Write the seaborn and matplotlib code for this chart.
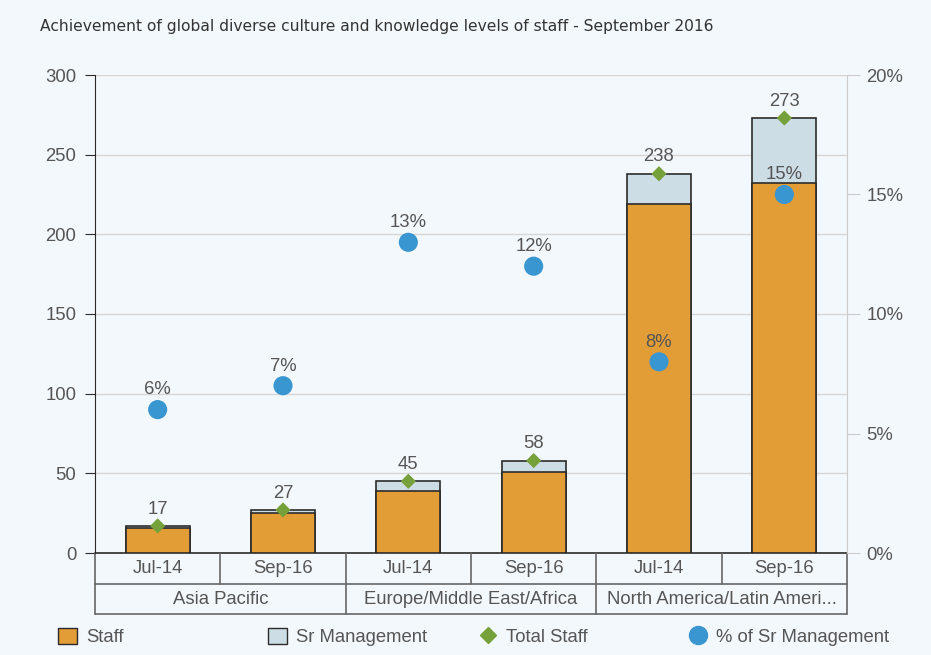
import numpy as np
import pandas as pd
import seaborn as sns
import matplotlib.pyplot as plt
from matplotlib.lines import Line2D
from matplotlib.patches import Patch

# --- data ---
regions = ["Asia Pacific", "Europe/Middle East/Africa", "North America/Latin Ameri..."]
periods = ["Jul-14", "Sep-16", "Jul-14", "Sep-16", "Jul-14", "Sep-16"]
staff = [16, 25, 39, 51, 219, 232]
sr_mgmt = [1, 2, 6, 7, 19, 41]
total_staff = [17, 27, 45, 58, 238, 273]
pct_sr = [6, 7, 13, 12, 8, 15]

df = pd.DataFrame({
    "slot": np.arange(len(periods)),
    "period": periods,
    "staff": staff,
    "total": np.array(staff) + np.array(sr_mgmt),
    "total_staff": total_staff,
    "pct": np.array(pct_sr) / 100,
})

# --- colours ---
bg = "#f3f8fc"
orange = "#e29d37"
light_blue = "#cddde6"
green = "#76a03a"
blue = "#3a96d0"
txt = "#555555"
edge = "#2b2b2b"
fs = 13.3

sns.set_style("white")
plt.rcParams["font.family"] = ["Liberation Sans", "DejaVu Sans"]

fig = plt.figure(figsize=(9.31, 6.55), dpi=100, facecolor=bg)
ax = fig.add_axes([95 / 931, 1 - 553 / 655, 752 / 931, 478 / 655], facecolor=bg)

# stacked bars: full height (sr mgmt) first, staff drawn over it
sns.barplot(data=df, x="slot", y="total", color=light_blue, width=0.51,
            edgecolor=edge, linewidth=1.2, saturation=1, ax=ax, zorder=2)
sns.barplot(data=df, x="slot", y="staff", color=orange, width=0.51,
            edgecolor=edge, linewidth=1.2, saturation=1, ax=ax, zorder=3)

sns.scatterplot(data=df, x="slot", y="total_staff", marker="D", s=60, color=green,
                edgecolor="none", ax=ax, zorder=5, legend=False)
for x, v in zip(df["slot"], df["total_staff"]):
    ax.annotate(str(v), (x, v), xytext=(0, 6), textcoords="offset points",
                ha="center", va="bottom", fontsize=fs, color=txt, zorder=6)

ax.set_xlim(-0.5, len(periods) - 0.5)
ax.set_ylim(0, 300)
ax.set_yticks(range(0, 301, 50))
ax.yaxis.grid(True, color="#d6d6d6", linewidth=1)
ax.set_axisbelow(True)
ax.set_xlabel("")
ax.set_ylabel("")
ax.set_xticks([])
ax.tick_params(axis="y", labelsize=fs, labelcolor=txt, length=7.5, color=edge, pad=6)
for s in ["top", "right", "bottom"]:
    ax.spines[s].set_visible(False)
ax.spines["left"].set_color(edge)

# secondary axis for % of Sr Management
ax2 = ax.twinx()
sns.scatterplot(data=df, x="slot", y="pct", s=190, color=blue, edgecolor="none",
                ax=ax2, zorder=5, legend=False)
for x, v in zip(df["slot"], df["pct"]):
    ax2.annotate(f"{v:.0%}", (x, v), xytext=(0, 8), textcoords="offset points",
                 ha="center", va="bottom", fontsize=fs, color=txt)
ax2.set_ylim(0, 0.20)
ax2.set_yticks(np.arange(0, 0.21, 0.05))
ax2.set_yticklabels([f"{t:.0%}" for t in np.arange(0, 0.21, 0.05)])
ax2.set_ylabel("")
ax2.tick_params(axis="y", labelsize=fs, labelcolor=txt, length=9, color="#cccccc", pad=5)
for s in ["top", "left", "bottom"]:
    ax2.spines[s].set_visible(False)
ax2.spines["right"].set_color("#cccccc")
ax2.set_xlim(-0.5, len(periods) - 0.5)

# two-level category table under the axis
trans = ax.get_xaxis_transform()
row1, row2 = -31 / 478, -61 / 478
lc = "#666666"
ax.plot([-0.5, 5.5], [0, 0], transform=trans, color=edge, lw=1.2, clip_on=False)
for yy in (row1, row2):
    ax.plot([-0.5, 5.5], [yy, yy], transform=trans, color=lc, lw=1.2, clip_on=False)
for xx in (-0.5, 1.5, 3.5, 5.5):
    ax.plot([xx, xx], [0, row2], transform=trans, color=lc, lw=1.2, clip_on=False)
for xx in (0.5, 2.5, 4.5):
    ax.plot([xx, xx], [0, row1], transform=trans, color=lc, lw=1.2, clip_on=False)
for x, p in zip(df["slot"], periods):
    ax.text(x, row1 / 2, p, transform=trans, ha="center", va="center",
            fontsize=fs, color=txt)
for i, r in enumerate(regions):
    ax.text(2 * i + 0.5, (row1 + row2) / 2, r, transform=trans, ha="center",
            va="center", fontsize=fs, color=txt)

# title
fig.text(40 / 931, 1 - 27 / 655, "Achievement of global diverse culture and knowledge levels of staff - September 2016",
         fontsize=11.2, color="#333333", va="center", ha="left",
         family=["Liberation Sans Narrow", "DejaVu Sans"])

# legend, one entry every 210 px
handles = [
    Patch(facecolor=orange, edgecolor=edge, label="Staff"),
    Patch(facecolor=light_blue, edgecolor=edge, label="Sr Management"),
    Line2D([], [], marker="D", color=green, linestyle="none", markersize=8, label="Total Staff"),
    Line2D([], [], marker="o", color=blue, linestyle="none", markersize=13, label="% of Sr Management"),
]
for i, h in enumerate(handles):
    fig.legend(handles=[h], loc="center left", bbox_to_anchor=((51 + 210 * i) / 931, 1 - 637 / 655),
               frameon=False, fontsize=fs, handlelength=1.0, handleheight=1.0,
               handletextpad=0.5, labelcolor=txt, borderaxespad=0)

fig.savefig("out.png", dpi=100, facecolor=bg)
